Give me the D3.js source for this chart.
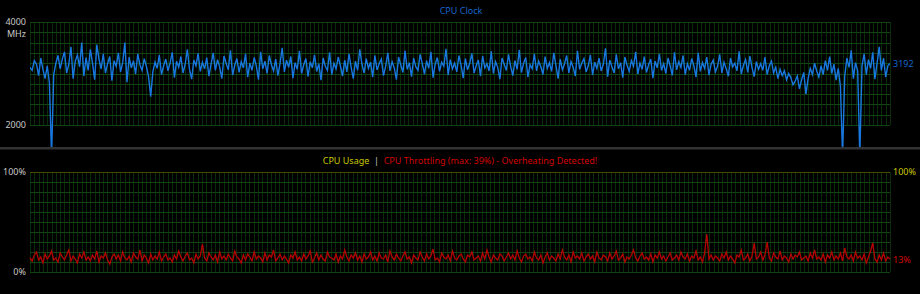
<!DOCTYPE html>
<html>
<head>
<meta charset="utf-8">
<script src="https://cdn.jsdelivr.net/npm/d3@7"></script>
<style>
  html, body { margin: 0; padding: 0; background: #000; }
  svg { display: block; }
  text { font-family: "Noto Sans", "Open Sans", sans-serif; font-size: 9px; }
</style>
</head>
<body>
<div id="chart"></div>
<script>
// CPU clock samples (MHz)
var clockValues = [
  3120, 3060, 3250, 3180, 2960, 3300, 3080, 2900, 3150, 2820, 1400, 2980, 3200, 3350, 3090, 3280, 3420, 3010, 3180, 3520,
  2900, 3240, 3360, 3130, 3600, 2950, 3310, 3060, 3470, 3200, 2880, 3560, 3280, 3090, 3380, 3010, 3190, 3330, 2860, 3250,
  3140, 3400, 3030, 3210, 3600, 2830, 3320, 3110, 3250, 2990, 3380, 3170, 3060, 3290, 3140, 2940, 2550, 3030, 3220, 3100,
  3360, 2980, 3150, 3280, 3050, 3200, 3410, 2920, 3240, 3120, 3330, 3010, 3180, 3470, 3080, 2890, 3260, 3150, 3390, 3040,
  3220, 3090, 3310, 2950, 3180, 3400, 3060, 3270, 3130, 2900, 3340, 3200, 3070, 3450, 2970, 3160, 3290, 3020, 3230, 3110,
  3380, 2930, 3200, 3060, 3310, 3150, 2880, 3420, 3090, 3240, 3000, 3350, 3170, 3050, 3280, 2960, 3190, 3500, 3030, 3260,
  3120, 3330, 2910, 3210, 3080, 3440, 3000, 3170, 3290, 2940, 3230, 3110, 3360, 3040, 3190, 2870, 3300, 3140, 3060, 3410,
  2980, 3200, 3090, 3320, 3150, 2950, 3260, 3030, 3380, 3120, 2900, 3240, 3060, 3470, 3180, 3010, 3290, 3100, 3220, 2930,
  3350, 3070, 3190, 3280, 2960, 3140, 3400, 3050, 3230, 3110, 2880, 3320, 3170, 3020, 3440, 3080, 3210, 2940, 3300, 3130,
  3060, 3370, 3190, 2990, 3250, 3100, 3420, 2920, 3180, 3310, 3040, 3220, 3140, 3480, 2970, 3270, 3090, 3200, 3030, 3350,
  3160, 2910, 3290, 3070, 3200, 3390, 3010, 3150, 3260, 2950, 3340, 3110, 3190, 3050, 3430, 3000, 3230, 3120, 2890, 3300,
  3180, 3060, 3370, 3140, 2960, 3250, 3080, 3460, 3020, 3200, 3310, 2930, 3170, 3090, 3380, 3050, 3240, 3130, 2980, 3330,
  3100, 3210, 3040, 3400, 3160, 2900, 3280, 3070, 3190, 3350, 3010, 3230, 3120, 2950, 3440, 3080, 3200, 3290, 3030, 3150,
  3360, 2970, 3220, 3100, 3300, 3050, 3180, 3490, 2940, 3260, 3130, 3010, 3370, 3090, 3210, 2920, 3320, 3160, 3040, 3250,
  3140, 3420, 2990, 3200, 3080, 3330, 3020, 3170, 3280, 2910, 3240, 3110, 3380, 3060, 3190, 3000, 3300, 3150, 2960, 3410,
  3070, 3230, 3120, 3350, 2980, 3190, 3060, 3290, 3150, 2930, 3400, 3040, 3210, 3100, 3320, 2970, 3180, 3260, 3030, 3140,
  3370, 3010, 3220, 3090, 2950, 3300, 3130, 3200, 3050, 3430, 2990, 3160, 3270, 3020, 3340, 3110, 2940, 3230, 3080, 3190,
  3060, 3320, 2980, 3150, 3240, 3010, 3120, 2900, 3080, 2960, 3050, 2880, 3000, 2920, 2780, 2850, 2950, 2700, 2880, 3020,
  2600, 2900, 3100, 2980, 3200, 3050, 2930, 3150, 2980, 3250, 3060, 3330, 3000, 3180, 2870, 3100, 2750, 1400, 2950, 3300,
  3120, 3450, 2900, 3210, 3050, 1400, 3150, 3380, 2980, 3270, 3100, 3410, 2890, 3200, 3520, 3060, 3300, 2930, 3150, 3192
];

// CPU usage samples (%)
var usageValues = [
  14, 11, 17, 20, 12, 15, 9, 18, 13, 16, 21, 12, 14, 10, 19, 15, 12, 17, 22, 11,
  16, 13, 9, 18, 14, 20, 12, 15, 11, 17, 13, 21, 10, 16, 14, 19, 12, 8, 15, 18,
  13, 17, 11, 20, 14, 12, 16, 10, 19, 15, 13, 22, 11, 17, 14, 9, 18, 12, 16, 13,
  20, 11, 15, 18, 12, 14, 10, 17, 13, 21, 15, 11, 16, 19, 12, 14, 9, 18, 13, 16,
  28, 14, 11, 19, 15, 12, 17, 10, 20, 13, 16, 12, 18, 14, 11, 21, 15, 13, 9, 17,
  12, 18, 15, 11, 20, 13, 16, 14, 10, 19, 12, 17, 15, 22, 11, 14, 18, 12, 16, 13,
  9, 17, 14, 20, 12, 15, 11, 18, 13, 16, 21, 10, 14, 19, 12, 17, 13, 11, 20, 15,
  14, 12, 18, 10, 16, 13, 22, 15, 11, 17, 14, 19, 12, 16, 10, 18, 13, 15, 20, 12,
  16, 11, 19, 14, 13, 17, 10, 21, 15, 12, 18, 14, 11, 16, 20, 13, 15, 9, 17, 14,
  12, 20, 15, 11, 18, 13, 16, 23, 12, 14, 10, 19, 15, 13, 17, 11, 21, 14, 12, 16,
  18, 13, 10, 17, 15, 20, 12, 14, 16, 11, 19, 13, 22, 15, 10, 17, 14, 12, 18, 16,
  11, 15, 19, 13, 17, 12, 21, 14, 10, 16, 18, 13, 15, 11, 20, 14, 12, 17, 9, 15,
  19, 12, 16, 14, 11, 18, 13, 22, 15, 12, 17, 10, 20, 14, 16, 13, 19, 11, 15, 18,
  13, 16, 10, 20, 14, 12, 17, 15, 11, 19, 13, 16, 21, 12, 14, 18, 10, 15, 13, 17,
  22, 14, 11, 16, 19, 13, 15, 12, 18, 10, 17, 14, 20, 13, 16, 11, 15, 19, 12, 14,
  17, 12, 20, 15, 13, 18, 11, 16, 14, 21, 12, 15, 10, 19, 38, 13, 17, 12, 16, 14,
  11, 18, 14, 20, 12, 16, 13, 9, 17, 15, 22, 12, 14, 18, 11, 16, 29, 13, 15, 20,
  12, 17, 30, 14, 11, 19, 15, 13, 21, 12, 16, 14, 10, 18, 13, 17, 15, 20, 12, 14,
  16, 11, 19, 14, 22, 13, 15, 12, 18, 10, 17, 14, 20, 12, 16, 13, 19, 11, 24, 15,
  13, 17, 11, 20, 14, 16, 12, 18, 9, 15, 21, 29, 13, 10, 17, 12, 19, 11, 15, 13
];

var clockTicks = [2000, 4000];
var usageTicks = [0, 100];
var clockTitle = "CPU Clock";
var usageTitle = "CPU Usage";
var throttleTitle = "CPU Throttling (max: 39%) - Overheating Detected!";

var width = 920, height = 294;
var plotLeft = 30, plotRight = 890;
var vDivisions = 200, hDivisions = 10;

var svg = d3
  .select("#chart")
  .append("svg")
  .attr("width", width)
  .attr("height", height);

svg.append("rect").attr("width", width).attr("height", height).attr("fill", "#000");

function drawGrid(g, y0, y1, topColor) {
  var gx = d3.scaleLinear().domain([0, vDivisions]).range([plotLeft, plotRight]);
  var gy = d3.scaleLinear().domain([0, hDivisions]).range([y1, y0]);
  g.append("g")
    .selectAll("line")
    .data(d3.range(0, vDivisions + 1))
    .enter()
    .append("line")
    .attr("x1", (d) => Math.round(gx(d)) + 0.5)
    .attr("x2", (d) => Math.round(gx(d)) + 0.5)
    .attr("y1", y0)
    .attr("y2", y1)
    .attr("stroke", "#0a2d0a")
    .attr("stroke-width", 1);
  g.append("g")
    .selectAll("line")
    .data(d3.range(0, hDivisions + 1))
    .enter()
    .append("line")
    .attr("x1", plotLeft)
    .attr("x2", plotRight)
    .attr("y1", (d) => Math.round(gy(d)) + 0.5)
    .attr("y2", (d) => Math.round(gy(d)) + 0.5)
    .attr("stroke", (d) => (d == hDivisions && topColor ? topColor : "#114411"))
    .attr("stroke-width", 1);
}

// ---- top panel: CPU clock
var clockPanel = svg.append("g");
var xClock = d3.scaleLinear().domain([0, clockValues.length - 1]).range([plotLeft, plotRight]);
var yClock = d3.scaleLinear().domain([2000, 4000]).range([125, 22]);

drawGrid(clockPanel, yClock(4000), yClock(2000));

clockPanel.append("clipPath")
  .attr("id", "clipTop")
  .append("rect")
  .attr("x", plotLeft)
  .attr("y", 0)
  .attr("width", plotRight - plotLeft)
  .attr("height", 147);

clockPanel.append("path")
  .datum(clockValues)
  .attr("clip-path", "url(#clipTop)")
  .attr("fill", "none")
  .attr("stroke", "#1878e0")
  .attr("stroke-width", 1.4)
  .attr("stroke-linejoin", "miter")
  .attr("d", d3.line().x((d, i) => xClock(i)).y((d) => yClock(d)));

clockPanel.append("text")
  .attr("x", 461)
  .attr("y", 14)
  .attr("text-anchor", "middle")
  .attr("fill", "#1466cc")
  .text(clockTitle);

var clockAxis = d3.axisLeft(yClock).tickValues(clockTicks).tickSize(0).tickPadding(4).tickFormat(d3.format("d"));
var ca = clockPanel.append("g").attr("transform", "translate(" + plotLeft + ",0)").call(clockAxis);
ca.select(".domain").remove();
ca.selectAll("text").attr("fill", "#c8c8c8").style("font-size", "9px").style("font-family", "Noto Sans");

clockPanel.append("text")
  .attr("x", 26)
  .attr("y", 37)
  .attr("text-anchor", "end")
  .attr("fill", "#c8c8c8")
  .text("MHz");

clockPanel.append("text")
  .attr("x", 893)
  .attr("y", yClock(clockValues[clockValues.length - 1]) + 3)
  .attr("fill", "#1466cc")
  .text(clockValues[clockValues.length - 1]);

// separator
svg.append("rect").attr("x", 0).attr("y", 147).attr("width", width).attr("height", 2.5).attr("fill", "#333");

// ---- bottom panel: CPU usage
var usagePanel = svg.append("g");
var xUsage = d3.scaleLinear().domain([0, usageValues.length - 1]).range([plotLeft, plotRight]);
var yUsage = d3.scaleLinear().domain([0, 100]).range([272, 172]);

drawGrid(usagePanel, yUsage(100), yUsage(0), "#4a4a00");

usagePanel.append("path")
  .datum(usageValues)
  .attr("fill", "none")
  .attr("stroke", "#b40000")
  .attr("stroke-width", 1.3)
  .attr("d", d3.line().x((d, i) => xUsage(i)).y((d) => yUsage(d)));

var titleText = usagePanel.append("text").attr("x", 460).attr("y", 164).attr("text-anchor", "middle");
titleText.append("tspan").attr("fill", "#c8c800").text(usageTitle);
titleText.append("tspan").attr("fill", "#c8c8c8").attr("xml:space", "preserve").text("  |  ");
titleText.append("tspan").attr("fill", "#d40000").text(throttleTitle);

var usageAxis = d3.axisLeft(yUsage).tickValues(usageTicks).tickSize(0).tickPadding(4).tickFormat((d) => d + "%");
var ua = usagePanel.append("g").attr("transform", "translate(" + plotLeft + ",0)").call(usageAxis);
ua.select(".domain").remove();
ua.selectAll("text").attr("fill", "#c8c8c8").style("font-size", "9px").style("font-family", "Noto Sans");

usagePanel.append("text")
  .attr("x", 893)
  .attr("y", yUsage(100) + 3)
  .attr("fill", "#c8c800")
  .text("100%");

usagePanel.append("text")
  .attr("x", 893)
  .attr("y", yUsage(usageValues[usageValues.length - 1]) + 4)
  .attr("fill", "#d40000")
  .text(usageValues[usageValues.length - 1] + "%");
</script>
</body>
</html>
